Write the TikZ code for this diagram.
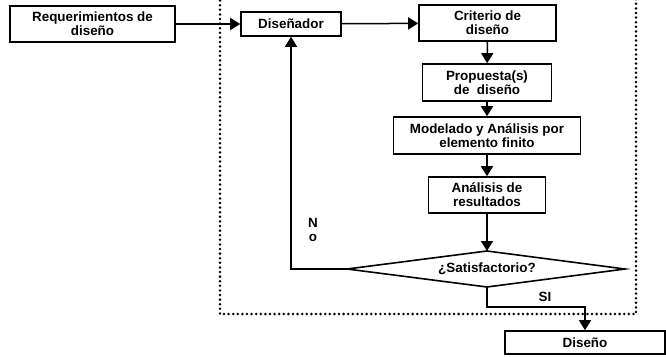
\documentclass[tikz,border=0pt]{standalone}
\usepackage{fontspec}
\setmainfont{Liberation Sans}
\usetikzlibrary{arrows.meta}
\begin{document}
\begin{tikzpicture}[x=1pt,y=-1pt,
  font=\fontsize{13.4}{14}\selectfont\bfseries,
  box/.style={draw,line width=1.6pt,align=center,inner sep=0pt},
  arr/.style={line width=1.5pt,-{Triangle[width=12pt,length=10pt]}},
  frame/.style={line width=2.8pt,dash pattern=on 0pt off 4.6pt,line cap=round}]
\useasboundingbox (0,0) rectangle (666,356);
\draw[frame] (220,-4) -- (220,314) -- (636,314) -- (636,-4);
\node[box,minimum width=165pt,minimum height=36pt] (req) at (92.5,24) {Requerimientos de\\diseño};
\node[box,minimum width=100pt,minimum height=24pt] (dis) at (291,24) {Diseñador};
\node[box,minimum width=137pt,minimum height=36pt] (crit) at (487.5,23) {Criterio de\\diseño};
\node[box,minimum width=129pt,minimum height=37pt] (prop) at (487,82.5) {Propuesta(s)\\de \ diseño};
\node[box,minimum width=187pt,minimum height=37pt] (mod) at (487,135.5) {Modelado y Análisis por\\elemento finito};
\node[box,minimum width=117pt,minimum height=36pt] (ana) at (487,195) {Análisis de\\resultados};
\coordinate (dtop) at (487,251);
\coordinate (dright) at (625,269);
\coordinate (dbot) at (487,287);
\coordinate (dleft) at (347,269);
\draw[line width=1.6pt] (dtop) -- (dright) -- (dbot) -- (dleft) -- cycle;
\node (sat) at (487,269) {¿Satisfactorio?};
\node[box,minimum width=160pt,minimum height=23pt] (dno) at (585,342.5) {Diseño};
\draw[arr] (req) -- (dis);
\draw[arr] (dis) -- (crit);
\draw[arr] (crit) -- (prop);
\draw[arr] (prop) -- (mod);
\draw[arr] (mod) -- (ana);
\draw[arr] (ana) -- (dtop);
\draw[arr] (dleft) -| (dis.south);
\draw[arr] (dbot) -- ++(0,20) -| (dno.north);
\node[align=center,inner sep=0pt] (nolab) at (313,230) {N\\o};
\node (si) at (545,297) {SI};
\end{tikzpicture}
\end{document}
